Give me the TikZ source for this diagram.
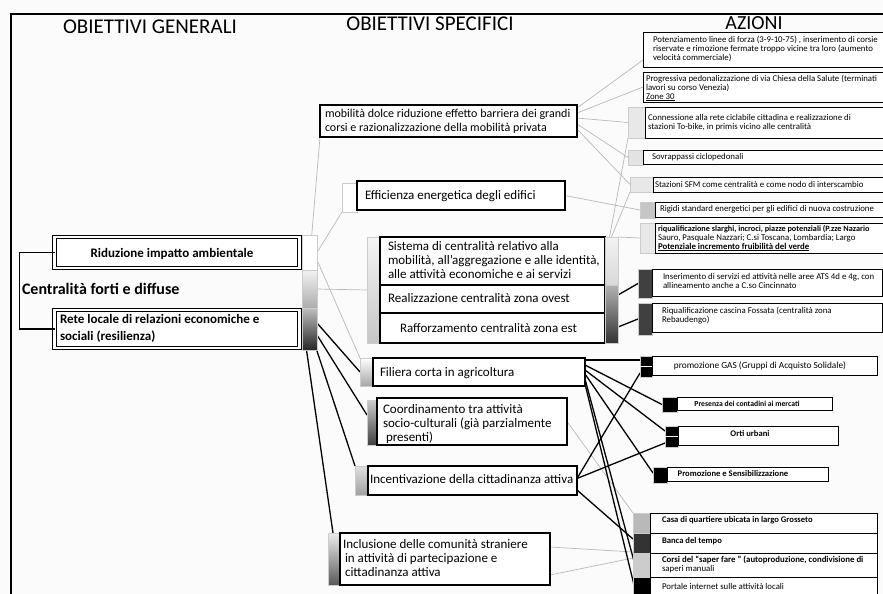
\documentclass[tikz,border=0pt]{standalone}
\usepackage{fontspec}
\setmainfont{Carlito}
\usetikzlibrary{calc}
\pgfdeclarelayer{back}
\pgfdeclarelayer{lines}
\pgfsetlayers{back,lines,main}
\begin{document}
\begin{tikzpicture}[x=1pt,y=-1pt,
  every node/.style={inner sep=0pt, outer sep=0pt},
  bx/.style n args={2}{minimum width=#1, minimum height=#2, anchor=north west},
  obj/.style={draw=black, line width=1.5pt, fill=white},
  dbl/.style={draw=black, line width=1pt, double, double distance=2.2pt, fill=white},
  act/.style={draw=black, line width=1pt, fill=white},
  stub/.style={draw=gray!40, line width=0.4pt},
  otx/.style={font=\fontsize{13}{14}\selectfont, align=left, anchor=west},
  atx/.style={font=\fontsize{8.8}{9}\selectfont, align=left, anchor=west},
  abx/.style={font=\bfseries\fontsize{8.6}{9}\selectfont, align=left, anchor=west},
  gline/.style={draw=gray!55, line width=0.7pt},
  kline/.style={draw=black, line width=1.3pt},
  hdr/.style={font=\fontsize{21}{24}\selectfont}
]
\useasboundingbox (0,0) rectangle (883,594);
\begin{pgfonlayer}{back}
\fill[gray!3] (0,0) rectangle (883,594);
\draw[line width=1.3pt] (883,14) -- (11,14) -- (11,594);
\end{pgfonlayer}

% headers
\node[hdr] (hog) at (150,27) {OBIETTIVI GENERALI};
\node[hdr] (hos) at (430,24) {OBIETTIVI SPECIFICI};
\node[hdr, font=\fontsize{20}{24}\selectfont] (haz) at (754,23) {AZIONI};

% general objectives
\node[bx={245pt}{31pt}, dbl] (rid) at (54.5,237) {};
\node[font=\bfseries\fontsize{13}{15}\selectfont] (trid) at (172,254) {Riduzione impatto ambientale};
\node[bx={245pt}{38pt}, dbl] (rete) at (54.5,310) {};
\node[font=\bfseries\fontsize{13}{17}\selectfont, align=left, anchor=west] (trete) at (60,328) {Rete locale di relazioni economiche e\\sociali (resilienza)};
\node[font=\bfseries\fontsize{16}{18}\selectfont, anchor=west] (cen) at (22,289) {Centralità forti e diffuse};
\draw[line width=1.3pt] (rid.west) -- ++(-35,0) |- (rete.west);

\node[bx={15pt}{35pt}, stub, fill=white] (s1) at (302,235) {};
\node[bx={15pt}{38pt}, stub, top color=gray!10, bottom color=gray!65] (s2) at (302,270) {};
\node[bx={15pt}{42pt}, stub, top color=gray!50, bottom color=black!85] (s3) at (302,308) {};

% specific objectives
\node[bx={257pt}{32pt}, obj] (mob) at (320,105) {};
\node[otx, font=\fontsize{12}{14}\selectfont] (tmob) at (325,121) {mobilità dolce riduzione effetto barriera dei grandi\\corsi e razionalizzazione della mobilità privata};

\node[bx={15pt}{29pt}, stub, fill=white] (effs) at (342,183) {};
\node[bx={208pt}{29pt}, obj] (eff) at (357,181) {};
\node[otx] (teff) at (365,196) {Efficienza energetica degli edifici};

\node[bx={13pt}{106pt}, stub, top color=gray!8, bottom color=gray!45] (ls) at (367,237) {};
\node[bx={225pt}{48pt}, obj] (sis) at (380,237) {};
\node[bx={225pt}{28pt}, obj] (rea) at (380,285) {};
\node[bx={225pt}{30pt}, obj] (raf) at (380,313) {};
\node[otx] (tsis) at (388,260) {Sistema di centralità relativo alla\\mobilità, all’aggregazione e alle identità,\\alle attività economiche e ai servizi};
\node[otx] (trea) at (388,298) {Realizzazione centralità zona ovest};
\node[otx] (traf) at (400,328) {Rafforzamento centralità zona est};
\node[bx={13pt}{48pt}, stub, top color=gray!10, bottom color=gray!30] (rs1) at (605,237) {};
\node[bx={13pt}{58pt}, stub, top color=gray!60, bottom color=black!80] (rs2) at (605,285) {};

\node[bx={13pt}{28pt}, stub, top color=white, bottom color=gray!70] (fils) at (360,358) {};
\node[bx={212pt}{28pt}, obj] (fil) at (373,358) {};
\node[otx] (tfil) at (380,373) {Filiera corta in agricoltura};

\node[bx={10pt}{45pt}, stub, top color=gray!40, bottom color=black!75] (coos) at (367,400) {};
\node[bx={190pt}{47pt}, obj] (coo) at (377,398) {};
\node[otx] (tcoo) at (383,424) {Coordinamento tra attività\\socio-culturali (già parzialmente\\\hspace*{3pt}presenti)};

\node[bx={13pt}{29pt}, stub, top color=gray!25, bottom color=gray!75] (incs) at (355,466) {};
\node[bx={209pt}{29pt}, obj] (inc) at (368,466) {};
\node[otx] (tinc) at (370,479) {Incentivazione della cittadinanza attiva};

\node[bx={12pt}{52pt}, stub, top color=gray!15, bottom color=black!65] (incls) at (328,533) {};
\node[bx={210pt}{52pt}, obj] (incl) at (340,533) {};
\node[otx] (tincl) at (343,558) {Inclusione delle comunità straniere\\\hspace*{2pt}in attività di partecipazione e\\\hspace*{2pt}cittadinanza attiva};

% actions
\node[bx={243pt}{35pt}, act] (a1) at (643,33) {};
\node[atx] (ta1) at (653,49) {Potenziamento linee di forza (3-9-10-75) , inserimento di corsie\\riservate e rimozione fermate troppo vicine tra loro (aumento\\velocità commerciale)};
\node[bx={243pt}{30pt}, act] (a2) at (643,72) {};
\node[atx] (ta2) at (646,88) {Progressiva pedonalizzazione di via Chiesa della Salute (terminati\\lavori su corso Venezia)\\\underline{Zone 30}};
\node[bx={17pt}{31pt}, stub, fill=gray!18] (a3s) at (628,107) {};
\node[bx={241pt}{31pt}, act] (a3) at (645,107) {};
\node[atx] (ta3) at (648,123) {Connessione alla rete ciclabile cittadina e realizzazione di\\stazioni To-bike, in primis vicino alle centralità};
\node[bx={15pt}{15pt}, stub, fill=gray!22] (a4s) at (628,150) {};
\node[bx={243pt}{14pt}, act] (a4) at (643,150) {};
\node[atx] (ta4) at (652,157) {Sovrappassi ciclopedonali};
\node[bx={23pt}{15pt}, stub, fill=gray!18] (a5s) at (630,177) {};
\node[bx={233pt}{15pt}, act] (a5) at (653,177) {};
\node[atx] (ta5) at (655,184.5) {Stazioni SFM come centralità e come nodo di interscambio};
\node[bx={15pt}{16pt}, stub, fill=gray!45] (a6s) at (640,202) {};
\node[bx={231pt}{15pt}, act] (a6) at (655,202) {};
\node[atx] (ta6) at (660,209.5) {Rigidi standard energetici per gli edifici di nuova costruzione};
\node[bx={15pt}{30pt}, stub, fill=gray!18] (a7s) at (640,223) {};
\node[bx={231pt}{30pt}, act] (a7) at (655,223) {};
\node[atx] (ta7) at (658,238) {{\bfseries\fontsize{8.2}{9}\selectfont riqualificazione slarghi, incroci, piazze potenziali (P.zze Nazario}\\Sauro, Pasquale Nazzari; C.si Toscana, Lombardia; Largo\\\textbf{\underline{Potenziale incremento fruibilità del verde}}};

\node[bx={14pt}{29pt}, stub, fill=black!75] (a8s) at (638,269) {};
\node[bx={230pt}{27pt}, act] (a8) at (652,269) {};
\node[atx] (ta8) at (663,281) {Inserimento di servizi ed attività nelle aree ATS 4d e 4g, con\\allineamento anche a C.so Cincinnato};
\node[bx={14pt}{32pt}, stub, fill=black!75] (a9s) at (638,303) {};
\node[bx={230pt}{29pt}, act] (a9) at (652,303) {};
\node[atx] (ta9) at (662,316) {Riqualificazione cascina Fossata (centralità zona\\Rebaudengo)};

\node[bx={12pt}{21pt}, stub, fill=black] (a10s) at (640,356) {};
\node[bx={225pt}{19pt}, act] (a10) at (652,356) {};
\node[atx, anchor=center, font=\fontsize{9.3}{10}\selectfont] (ta10) at (760,365.5) {promozione GAS (Gruppi di Acquisto Solidale)};
\node[bx={15pt}{15pt}, stub, fill=black] (a11s) at (662,397) {};
\node[bx={155pt}{13pt}, act] (a11) at (677,397) {};
\node[abx, anchor=center, font=\bfseries\fontsize{7.7}{9}\selectfont] (ta11) at (747,403.5) {Presenza dei contadini ai mercati};
\node[bx={13pt}{21pt}, stub, fill=black] (a12s) at (665,426) {};
\node[bx={160pt}{19pt}, act] (a12) at (678,426) {};
\node[abx, anchor=center] (ta12) at (750,434) {Orti urbani};
\node[bx={14pt}{16pt}, stub, fill=black] (a13s) at (653,467) {};
\node[bx={161pt}{14pt}, act] (a13) at (667,467) {};
\node[abx, anchor=center] (ta13) at (733,474) {Promozione e Sensibilizzazione};
\draw[white, line width=1.2pt] (a10s.west) -- (a10s.east);
\draw[white, line width=1.2pt] (a12s.west) -- (a12s.east);

\node[bx={17pt}{20pt}, stub, fill=gray!55] (a14s) at (633,513) {};
\node[bx={227pt}{20pt}, act] (a14) at (650,513) {};
\node[abx] (ta14) at (662,520.5) {Casa di quartiere ubicata in largo Grosseto};
\node[bx={17pt}{20pt}, stub, fill=black!80] (a15s) at (633,533) {};
\node[bx={227pt}{20pt}, act] (a15) at (650,533) {};
\node[abx] (ta15) at (662,541) {Banca del tempo};
\node[bx={17pt}{24pt}, stub, fill=gray!40] (a16s) at (633,553) {};
\node[bx={227pt}{24pt}, act] (a16) at (650,553) {};
\node[atx] (ta16) at (662,564.5) {\textbf{Corsi del ``saper fare '' (autoproduzione, condivisione di}\\saperi manuali};
\node[bx={17pt}{25pt}, stub, fill=black] (a17s) at (633,577) {};
\node[bx={227pt}{25pt}, act] (a17) at (650,577) {};
\node[atx] (ta17) at (662,586.5) {Portale internet sulle attività locali};

% connectors
\begin{pgfonlayer}{lines}
\draw[gline] ($(s1.north)+(2,3)$) -- (mob.south west);
\draw[gline] (s1.east) -- (effs.south west);
\draw[gline] ($(s1.south east)+(0,-10)$) -- (fils.north west);
\draw[gline] (s2.east) -- (ls.west);
\draw[gline] ($(mob.north east)+(0,3)$) -- ($(a1.south west)+(0,-8)$);
\draw[gline] ($(mob.east)+(0,-8)$) -- (a2.west);
\draw[gline] ($(mob.east)+(0,-3)$) -- (a3s.west);
\draw[gline] ($(mob.east)+(0,3)$) -- (a4s.west);
\draw[gline] ($(mob.east)+(0,8)$) -- (a5s.west);
\draw[gline] (eff.east) -- (a6s.west);
\draw[gline] ($(rs1.north)+(-2,0)$) -- (a3s.south west);
\draw[gline] (rs1.north) -- (a5s.south west);
\draw[gline] (rs1.north east) -- (a7s.west);
\draw[gline] (coo.east) -- (a14s.north west);
\draw[gline] ($(incl.east)+(0,-12)$) -- ($(a16s.north west)+(0,-1)$);
\draw[gline] ($(incl.east)+(0,16)$) -- ($(a16s.north west)+(0,5)$);

\draw[kline] ($(s3.north east)+(0,15)$) -- (fils.west);
\draw[kline] ($(s3.east)+(0,6)$) -- ($(coos.north west)+(0,15)$);
\draw[kline] ($(s3.south east)+(-2,-5)$) -- (incs.north west);
\draw[kline] ($(s3.south)+(-3,0)$) -- ($(incls.north west)+(5,0)$);
\draw[kline] ($(rs2.north east)+(0,10)$) -- (a8s.west);
\draw[kline] ($(rs2.north east)+(0,42)$) -- (a9s.west);
\draw[kline] ($(fil.north east)+(0,2)$) -- ($(a10s.north west)+(0,4)$);
\draw[kline] ($(fil.north east)+(0,7)$) -- (a11s.west);
\draw[kline] ($(fil.north east)+(0,12)$) -- ($(a12s.north west)+(0,5)$);
\draw[kline] ($(fil.north east)+(0,16)$) -- ($(a13s.north west)+(0,6)$);
\draw[kline] ($(fil.south east)+(0,-2)$) -- ($(a17s.north west)+(2,12)$);
\draw[kline] ($(fil.south east)+(0,-7)$) -- ($(a17s.north west)+(9,14)$);
\draw[kline] ($(inc.east)+(0,-2)$) -- ($(a10s.south west)+(0,-4)$);
\draw[kline] ($(inc.east)+(0,-2)$) -- ($(a12s.south west)+(0,-4)$);
\draw[kline] ($(inc.south east)+(0,-5)$) -- ($(a15s.west)+(0,-4)$);
\end{pgfonlayer}
\end{tikzpicture}
\end{document}
